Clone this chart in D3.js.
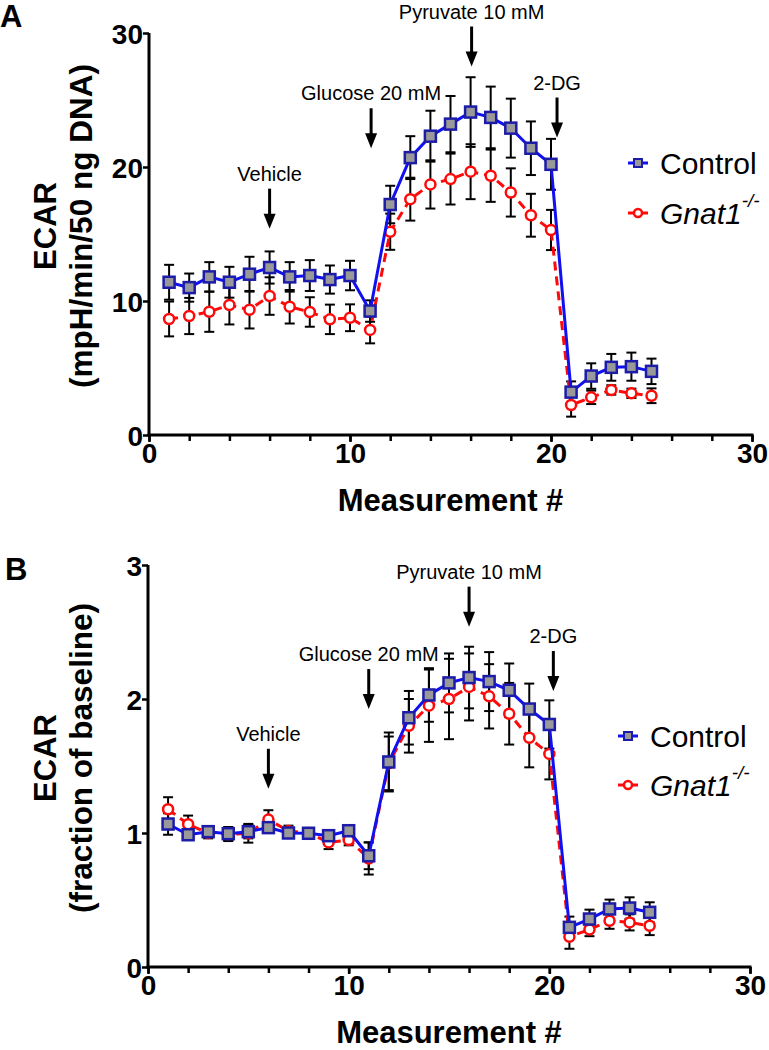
<!DOCTYPE html>
<html>
<head>
<meta charset="utf-8">
<script src="https://cdn.jsdelivr.net/npm/d3@7/dist/d3.min.js"></script>
<style>
  body { margin: 0; background: #fff; }
  svg { display: block; font-family: Arial, "Liberation Sans", Helvetica, sans-serif; }
</style>
</head>
<body>
<svg id="chart" width="769" height="1050"></svg>
<script>
// measurement numbers
var measurements = [1,2,3,4,5,6,7,8,9,10,11,12,13,14,15,16,17,18,19,20,21,22,23,24,25];

// panel A: ECAR (mpH/min/50 ng DNA), mean and SEM
var controlA    = [11.4,11.0,11.8,11.4,12.0,12.5,11.8,11.9,11.6,11.9,9.25,17.2,20.7,22.3,23.2,24.1,23.7,22.9,21.4,20.2,3.2,4.4,5.05,5.1,4.75];
var controlSemA = [1.3,1.05,1.1,1.15,1.3,1.2,1.1,1.15,1.05,1.1,0.8,1.4,1.6,1.9,2.1,2.6,2.3,2.2,2.0,1.9,0.8,0.95,1.0,1.05,0.95];
var gnatA       = [8.66,8.88,9.2,9.7,9.35,10.37,9.57,9.18,8.63,8.75,7.84,15.17,17.6,18.7,19.1,19.65,19.35,18.1,16.4,15.3,2.24,2.81,3.36,3.11,2.93];
var gnatSemA    = [1.3,1.35,1.5,1.45,1.4,1.4,1.25,1.1,1.1,1.0,1.0,1.35,1.6,1.8,1.9,2.05,1.95,1.8,1.6,1.5,0.87,0.5,0.35,0.35,0.55];

// panel B: ECAR (fraction of baseline), mean and SEM
var controlB    = [1.067,0.987,1.01,0.995,1.01,1.04,1.0,0.998,0.98,1.017,0.83,1.53,1.86,2.03,2.12,2.16,2.13,2.065,1.925,1.81,0.296,0.358,0.433,0.44,0.408];
var controlSemB = [0.08,0.03,0.03,0.05,0.05,0.04,0.03,0.03,0.02,0.02,0.1,0.22,0.2,0.2,0.22,0.23,0.22,0.2,0.19,0.18,0.08,0.07,0.07,0.08,0.075];
var gnatB       = [1.177,1.065,1.0,0.99,0.998,1.10,1.015,1.0,0.93,0.948,0.81,1.52,1.8,1.95,2.0,2.09,2.02,1.89,1.71,1.59,0.226,0.28,0.345,0.333,0.308];
var gnatSemB    = [0.09,0.065,0.04,0.05,0.07,0.07,0.04,0.03,0.05,0.04,0.12,0.2,0.2,0.27,0.3,0.25,0.24,0.23,0.22,0.19,0.09,0.05,0.06,0.06,0.07];

// axis ticks
var xTicks      = [0,10,20,30];
var xMinorTicks = [0,2,4,6,8,10,12,14,16,18,20,22,24,26,28,30];
var yTicksA     = [0,10,20,30];
var yTicksB     = [0,1,2,3];

// treatment arrows: label, measurement #, arrow tip value
var labels = ["Vehicle","Glucose 20 mM","Pyruvate 10 mM","2-DG"];
var arrowXA = [6,11.05,16.05,20.3];
var arrowTipA = [15.4,21.4,27.5,22.2];
var arrowXB = [6,11,16,20.2];
var arrowTipB = [1.33,1.925,2.54,2.06];

var seriesNames = ["Control","Gnat1"];

var blue = "#1010f0", darkBlue = "#1c1ca8", red = "#ff0a0a";

var svg = d3.select("#chart");

var drawPanel = function(cfg)
{
    var g = svg.append("g");

    var xScale = d3.scaleLinear().domain([0,30]).range([cfg.left, cfg.right]);
    var yScale = d3.scaleLinear().domain(cfg.yDomain).range([cfg.bottom, cfg.top]);

    var ctrl = measurements.map(function(m,i){ return {x:m, y:cfg.ctrl[i], e:cfg.ctrlSem[i]}; });
    var gnat = measurements.map(function(m,i){ return {x:m, y:cfg.gnat[i], e:cfg.gnatSem[i]}; });

    // axes
    var yAxis = d3.axisLeft(yScale).tickValues(cfg.yTicks).tickSize(6).tickFormat(d3.format("d"));
    var ya = g.append("g").attr("transform","translate("+cfg.left+",0)").call(yAxis);
    ya.select(".domain").attr("stroke-width",3).attr("d","M0,"+(cfg.bottom+1.5)+"V"+cfg.top);
    ya.selectAll(".tick line").attr("stroke-width",2.5);
    ya.selectAll("text").attr("font-size",28).attr("font-weight","bold").attr("fill","#000").attr("x",-6).attr("dy","0.36em");

    var xMinor = d3.axisBottom(xScale).tickValues(xMinorTicks).tickSize(6).tickFormat("");
    var xm = g.append("g").attr("transform","translate(0,"+cfg.bottom+")").call(xMinor);
    xm.select(".domain").remove();
    xm.selectAll(".tick line").attr("stroke-width",2.5);

    var xAxis = d3.axisBottom(xScale).tickValues(xTicks).tickSize(7).tickFormat(d3.format("d"));
    var xa = g.append("g").attr("transform","translate(0,"+cfg.bottom+")").call(xAxis);
    xa.select(".domain").attr("stroke-width",3).attr("d","M"+(cfg.left-1.5)+",0H"+(cfg.right+1.5));
    xa.selectAll(".tick line").attr("stroke-width",2.5);
    xa.selectAll("text").attr("font-size",28).attr("font-weight","bold").attr("fill","#000").attr("y",8).attr("dy","0.71em");

    // axis titles
    g.append("text")
        .text("Measurement #")
        .attr("text-anchor","middle")
        .attr("font-size",31).attr("font-weight","bold")
        .attr("x",(cfg.left+cfg.right)/2)
        .attr("y",cfg.bottom+76);

    var yt = g.append("g")
        .attr("transform","translate(0,"+cfg.yLabelY+") rotate(-90)");
    yt.append("text").text("ECAR")
        .attr("text-anchor","middle").attr("font-size",31).attr("font-weight","bold")
        .attr("y",56);
    yt.append("text").text(cfg.yUnit)
        .attr("text-anchor","middle").attr("font-size",31.5).attr("font-weight","bold")
        .attr("y",92);

    g.append("text").text(cfg.letter)
        .attr("font-size",31).attr("font-weight","bold")
        .attr("x",cfg.letterX).attr("y",cfg.letterY);

    // error bars
    var drawErr = function(data)
    {
        var eb = g.append("g").attr("stroke","#000").attr("stroke-width",2);
        eb.selectAll("line.v").data(data).enter().append("line")
            .attr("x1",function(d){return xScale(d.x)}).attr("x2",function(d){return xScale(d.x)})
            .attr("y1",function(d){return yScale(d.y+d.e)}).attr("y2",function(d){return yScale(d.y-d.e)});
        eb.selectAll("line.t").data(data).enter().append("line")
            .attr("x1",function(d){return xScale(d.x)-5}).attr("x2",function(d){return xScale(d.x)+5})
            .attr("y1",function(d){return yScale(d.y+d.e)}).attr("y2",function(d){return yScale(d.y+d.e)});
        eb.selectAll("line.b").data(data).enter().append("line")
            .attr("x1",function(d){return xScale(d.x)-5}).attr("x2",function(d){return xScale(d.x)+5})
            .attr("y1",function(d){return yScale(d.y-d.e)}).attr("y2",function(d){return yScale(d.y-d.e)});
    }
    drawErr(gnat);
    drawErr(ctrl);

    var line = d3.line()
        .x(function(d){return xScale(d.x)})
        .y(function(d){return yScale(d.y)});

    g.append("path").datum(gnat)
        .attr("fill","none").attr("stroke",red).attr("stroke-width",3)
        .attr("stroke-dasharray","9,6").attr("d",line);
    g.selectAll("circle.gnat").data(gnat).enter().append("circle")
        .attr("cx",function(d){return xScale(d.x)}).attr("cy",function(d){return yScale(d.y)})
        .attr("r",5).attr("fill","#fff").attr("stroke",red).attr("stroke-width",2.5);

    g.append("path").datum(ctrl)
        .attr("fill","none").attr("stroke",blue).attr("stroke-width",3).attr("d",line);
    g.selectAll("rect.ctrl").data(ctrl).enter().append("rect")
        .attr("x",function(d){return xScale(d.x)-5.5}).attr("y",function(d){return yScale(d.y)-5.5})
        .attr("width",11).attr("height",11)
        .attr("fill","#999").attr("stroke",darkBlue).attr("stroke-width",2.5);

    // treatment arrows
    var arrows = g.selectAll("g.arrow").data(labels).enter().append("g");
    arrows.append("line")
        .attr("x1",function(d,i){return xScale(cfg.arrowX[i])}).attr("x2",function(d,i){return xScale(cfg.arrowX[i])})
        .attr("y1",function(d,i){return yScale(cfg.arrowTip[i])-40}).attr("y2",function(d,i){return yScale(cfg.arrowTip[i])-10})
        .attr("stroke","#000").attr("stroke-width",3);
    arrows.append("path")
        .attr("d",function(d,i){
            var x = xScale(cfg.arrowX[i]), y = yScale(cfg.arrowTip[i]);
            return "M"+x+","+y+"L"+(x-6)+","+(y-15)+"L"+(x+6)+","+(y-15)+"Z";
        })
        .attr("fill","#000");
    arrows.append("text")
        .text(function(d){return d})
        .attr("text-anchor","middle").attr("font-size",20)
        .attr("x",function(d,i){return xScale(cfg.arrowX[i])})
        .attr("y",function(d,i){return yScale(cfg.arrowTip[i])-48});

    // legend
    var legend = g.append("g").attr("transform","translate("+cfg.legendX+","+cfg.legendY+")");
    var entries = legend.selectAll("g").data(seriesNames).enter().append("g")
        .attr("transform",function(d,i){return "translate(0,"+(i*cfg.legendGap)+")"});
    entries.append("line")
        .attr("x1",-10).attr("x2",10).attr("y1",0).attr("y2",0)
        .attr("stroke",function(d,i){return i==0 ? blue : red}).attr("stroke-width",3);
    entries.filter(function(d,i){return i==0}).append("rect")
        .attr("x",-4).attr("y",-4).attr("width",8).attr("height",8)
        .attr("fill","#999").attr("stroke",darkBlue).attr("stroke-width",2);
    entries.filter(function(d,i){return i==1}).append("circle")
        .attr("r",4).attr("fill","#fff").attr("stroke",red).attr("stroke-width",2.5);
    var lt = entries.append("text")
        .attr("x",22).attr("y",0).attr("dy","0.36em")
        .attr("font-size",30);
    lt.filter(function(d,i){return i==0}).text(function(d){return d});
    lt.filter(function(d,i){return i==1}).attr("font-style","italic")
        .call(function(t){
            t.append("tspan").text(function(d){return d});
            t.append("tspan").text("-/-").attr("font-size",19).attr("dy","-0.9em");
        });
}

drawPanel({
    letter:"A", letterX:0, letterY:27,
    left:149, right:752, top:33, bottom:435,
    yDomain:[0,30], yTicks:yTicksA, yUnit:"(mpH/min/50 ng DNA)", yLabelY:226,
    ctrl:controlA, ctrlSem:controlSemA, gnat:gnatA, gnatSem:gnatSemA,
    arrowX:arrowXA, arrowTip:arrowTipA,
    legendX:638, legendY:163, legendGap:50
});

drawPanel({
    letter:"B", letterX:5, letterY:580,
    left:148, right:750, top:565, bottom:967,
    yDomain:[0,3], yTicks:yTicksB, yUnit:"(fraction of baseline)", yLabelY:758,
    ctrl:controlB, ctrlSem:controlSemB, gnat:gnatB, gnatSem:gnatSemB,
    arrowX:arrowXB, arrowTip:arrowTipB,
    legendX:628, legendY:736, legendGap:49
});
</script>
</body>
</html>
